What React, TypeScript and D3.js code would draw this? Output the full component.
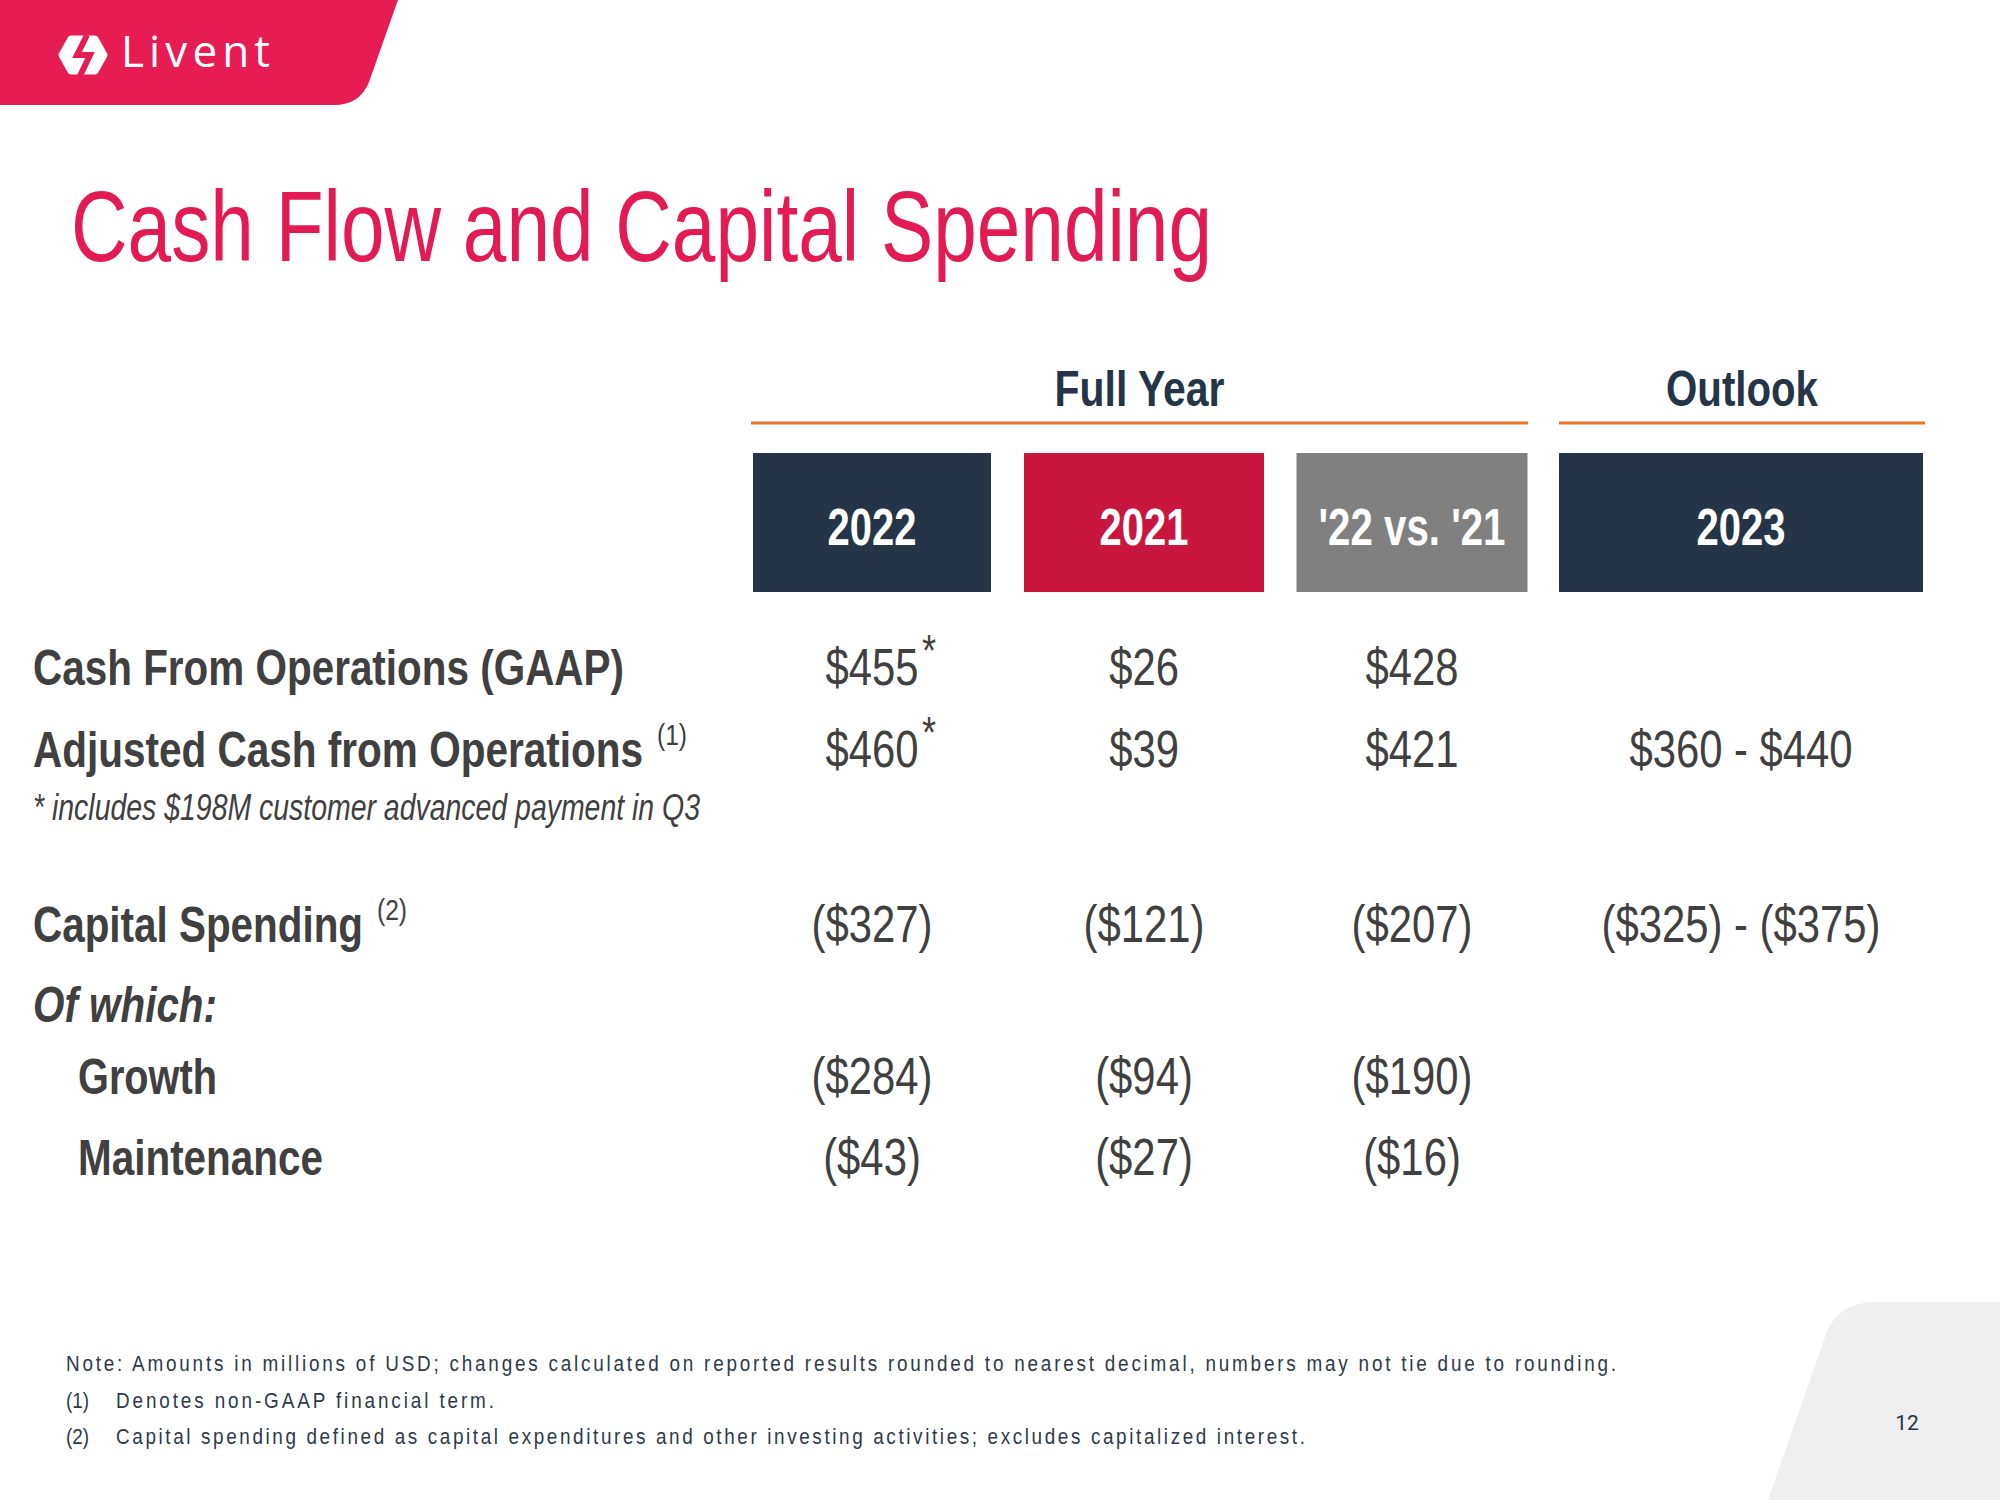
import React from "react";
import * as d3 from "d3";

// ---------- data ----------
const columns = ["2022", "2021", "'22 vs. '21", "2023"];
const groupHeaders = ["Full Year", "Outlook"];
const rowKeys = ["cfo", "adj", "capex", "ofwhich", "growth", "maint"];
const rowLabels = [
  "Cash From Operations (GAAP)",
  "Adjusted Cash from Operations",
  "Capital Spending",
  "Of which:",
  "Growth",
  "Maintenance",
];
const rowSuperscripts = ["", "(1)", "(2)", "", "", ""];
const values2022 = ["$455", "$460", "($327)", "", "($284)", "($43)"];
const values2021 = ["$26", "$39", "($121)", "", "($94)", "($27)"];
const valuesChange = ["$428", "$421", "($207)", "", "($190)", "($16)"];
const values2023 = ["", "$360 - $440", "($325) - ($375)", "", "", ""];
const asteriskRows2022 = [true, true, false, false, false, false];
const noteLine = "* includes $198M customer advanced payment in Q3";
const footnotes = [
  "Note: Amounts in millions of USD; changes calculated on reported results rounded to nearest decimal, numbers may not tie due to rounding.",
  "Denotes non-GAAP financial term.",
  "Capital spending defined as capital expenditures and other investing activities; excludes capitalized interest.",
];
const title = "Cash Flow and Capital Spending";
const pageNumber = "12";

// ---------- styles ----------
const NARROW = "'Liberation Sans Narrow', 'Arial Narrow', 'Liberation Sans', Arial, sans-serif";
const SANS = "'Liberation Sans', Arial, sans-serif";
const SQ = 0.82; // horizontal condensing factor
const FSQ = 0.86;
const PINK = "#E31B54";
const NAVY = "#253547";
const TEXT = "#404040";
const FOOT = "#2E3A4A";
const boxColors = [NAVY, "#C9163E", "#808080", NAVY];

const W = 2000;
const H = 1500;

export default function App() {
  const valueCols = [values2022, values2021, valuesChange, values2023];

  const xCenter = d3.scaleOrdinal<string, number>().domain(columns).range([872, 1144, 1412, 1741]);
  const boxWidth = d3.scaleOrdinal<string, number>().domain(columns).range([238, 240, 231, 364]);
  const yRow = d3.scaleOrdinal<string, number>().domain(rowKeys).range([685, 767, 942, 1022, 1094, 1175]);
  const labelX = d3.scaleOrdinal<string, number>().domain(rowKeys).range([33, 33, 33, 33, 78, 78]);
  const labelW = d3.scaleOrdinal<string, number>().domain(rowKeys).range([591, 610, 330, 184, 139, 245]);
  const groupX = d3.scaleOrdinal<string, [number, number]>().domain(groupHeaders).range([
    [751, 1528],
    [1559, 1925],
  ]);
  const groupW = d3.scaleOrdinal<string, number>().domain(groupHeaders).range([170, 152]);
  const headerW = d3.scaleOrdinal<string, number>().domain(columns).range([89, 89, 187, 89]);

  return (
    <svg
      width={W}
      height={H}
      viewBox={`0 0 ${W} ${H}`}
      style={{ position: "absolute", left: 0, top: 0, display: "block", background: "#fff" }}
    >
      <rect x={0} y={0} width={W} height={H} fill="#ffffff" />

      {/* logo banner */}
      <path d="M0,0 H398 L369,82 Q360,105 334,105 H0 Z" fill="#E61C52" />
      <g>
        <path
          d="M62,55 L71,39 L95,39 L104,55 L95,71 L71,71 Z"
          fill="#ffffff"
          stroke="#ffffff"
          strokeWidth={7}
          strokeLinejoin="round"
        />
        <path d="M87,35 L77,55 L90,55 L80,76" fill="none" stroke="#E61C52" strokeWidth={6} strokeLinejoin="miter" />
      </g>
      <text
        x={121}
        y={67}
        fontFamily="'Open Sans', 'Noto Sans', sans-serif"
        fontSize={44}
        fontWeight={500}
        fill="#ffffff"
        textLength={149}
        lengthAdjust="spacing"
      >
        Livent
      </text>

      {/* title */}
      <text
        x={71}
        y={261}
        fontFamily={NARROW}
        fontSize={100}
        fill={PINK}
        textLength={1141}
        lengthAdjust="spacingAndGlyphs"
      >
        {title}
      </text>

      {/* group headers */}
      {groupHeaders.map((g) => {
        const [x0, x1] = groupX(g);
        const cx = (x0 + x1) / 2;
        return (
          <g key={g}>
            <text
              x={cx - groupW(g) / 2}
              y={406}
              fontFamily={NARROW}
              fontWeight="bold"
              fontSize={50}
              fill={NAVY}
              textLength={groupW(g)}
              lengthAdjust="spacingAndGlyphs"
            >
              {g}
            </text>
            <line x1={x0} x2={x1} y1={423} y2={423} stroke="#E8772A" strokeWidth={3} />
          </g>
        );
      })}

      {/* column header boxes */}
      {columns.map((c, i) => (
        <g key={c}>
          <rect x={xCenter(c) - boxWidth(c) / 2} y={453} width={boxWidth(c)} height={139} fill={boxColors[i]} />
          <text
            x={xCenter(c) - headerW(c) / 2}
            y={545}
            fontFamily={NARROW}
            fontWeight="bold"
            fontSize={51}
            fill="#ffffff"
            textLength={headerW(c)}
            lengthAdjust="spacingAndGlyphs"
          >
            {c}
          </text>
        </g>
      ))}

      {/* row labels */}
      {rowKeys.map((k, i) => (
        <g key={k}>
          <text
            x={labelX(k)}
            y={yRow(k)}
            fontFamily={NARROW}
            fontWeight="bold"
            fontStyle={k === "ofwhich" ? "italic" : "normal"}
            fontSize={50}
            fill={TEXT}
            textLength={labelW(k)}
            lengthAdjust="spacingAndGlyphs"
          >
            {rowLabels[i]}
          </text>
          {rowSuperscripts[i] && (
            <text
              transform={`translate(${labelX(k) + labelW(k) + 14},${yRow(k) - 22}) scale(${SQ},1)`}
              fontFamily={SANS}
              fontSize={30}
              fill={TEXT}
            >
              {rowSuperscripts[i]}
            </text>
          )}
        </g>
      ))}

      {/* italic note */}
      <text
        x={33}
        y={820}
        fontFamily={NARROW}
        fontStyle="italic"
        fontSize={36}
        fill={TEXT}
        textLength={667}
        lengthAdjust="spacingAndGlyphs"
      >
        {noteLine}
      </text>

      {/* values */}
      {columns.map((c, ci) =>
        rowKeys.map((k, ri) => {
          const v = valueCols[ci][ri];
          if (!v) return null;
          return (
            <text
              key={c + k}
              transform={`translate(${xCenter(c)},${yRow(k)}) scale(${SQ},1)`}
              textAnchor="middle"
              fontFamily={SANS}
              fontSize={51}
              fill={TEXT}
            >
              {v}
            </text>
          );
        })
      )}
      {rowKeys.map((k, ri) =>
        asteriskRows2022[ri] ? (
          <text
            key={"ast" + k}
            transform={`translate(${xCenter(columns[0]) + 50},${yRow(k) - 19}) scale(${SQ},1)`}
            fontFamily={SANS}
            fontSize={44}
            fill={TEXT}
          >
            *
          </text>
        ) : null
      )}

      {/* footnotes */}
      <text
        transform={`translate(66,1371) scale(${FSQ},1)`}
        fontFamily={SANS}
        fontSize={22}
        fill={FOOT}
        textLength={1550 / FSQ}
        lengthAdjust="spacing"
      >
        {footnotes[0]}
      </text>
      {[1, 2].map((n) => (
        <g key={n}>
          <text
            transform={`translate(66,${1371 + n * 36.5}) scale(${FSQ},1)`}
            fontFamily={SANS}
            fontSize={22}
            fill={FOOT}
          >
            ({n})
          </text>
          <text
            transform={`translate(116,${1371 + n * 36.5}) scale(${FSQ},1)`}
            fontFamily={SANS}
            fontSize={22}
            fill={FOOT}
            textLength={(n === 1 ? 378 : 1189) / FSQ}
            lengthAdjust="spacing"
          >
            {footnotes[n]}
          </text>
        </g>
      ))}

      {/* page corner */}
      <path d="M1768,1500 L1826,1334 Q1838,1302 1876,1302 H2000 V1500 Z" fill="#EFEFEF" />
      <text
        x={1907}
        y={1430}
        textAnchor="middle"
        fontFamily="Roboto, 'Noto Sans', sans-serif"
        fontSize={21}
        fill="#25364A"
      >
        {pageNumber}
      </text>
    </svg>
  );
}
